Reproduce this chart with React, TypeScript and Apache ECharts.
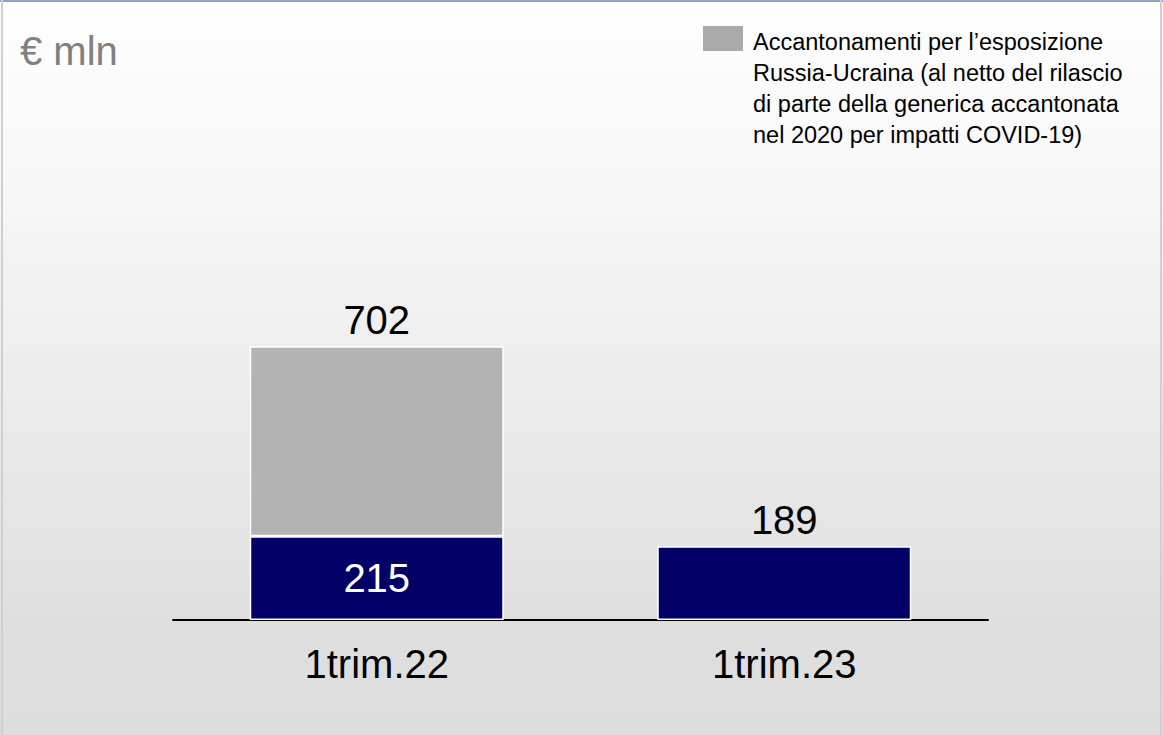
import React, { useEffect, useRef } from "react";
import * as echarts from "echarts";

const categories = ["1trim.22", "1trim.23"];
const baseValues = [215, 189];
const russiaValues = [487, 0];
const totals = [702, 189];
const showBaseLabel = [true, false];
const unitLabel = "€ mln";
const legendLabel =
  "Accantonamenti per l’esposizione\nRussia-Ucraina (al netto del rilascio\ndi parte della generica accantonata\nnel 2020 per impatti COVID-19)";

const FONT = "'Liberation Sans', Arial, sans-serif";

export default function App() {
  const ref = useRef<HTMLDivElement>(null);
  useEffect(() => {
    if (!ref.current) return;
    const chart = echarts.init(ref.current, null, { renderer: "svg" });
    chart.setOption({
      animation: false,
      backgroundColor: new echarts.graphic.LinearGradient(0, 0, 0, 1, [
        { offset: 0, color: "#fefefe" },
        { offset: 0.2, color: "#f9f9f9" },
        { offset: 0.85, color: "#dfdfdf" },
        { offset: 1, color: "#dddddd" },
      ]),
      textStyle: { fontFamily: FONT },
      grid: { left: 173, right: 175, top: 74, bottom: 115 },
      xAxis: {
        type: "category",
        data: categories,
        axisLine: { show: true, lineStyle: { color: "#000", width: 2 } },
        axisTick: { show: false },
        axisLabel: { color: "#000", fontSize: 40, margin: 24, fontFamily: FONT },
      },
      yAxis: {
        type: "value",
        min: 0,
        max: 1400,
        show: false,
        splitLine: { show: false },
      },
      series: [
        {
          type: "bar",
          name: "Base",
          stack: "tot",
          barWidth: 254,
          data: baseValues.map((v, i) => ({
            value: v,
            label: { show: showBaseLabel[i] },
          })),
          itemStyle: { color: "#000066", borderColor: "#ffffff", borderWidth: 1.5 },
          label: {
            show: true,
            position: "inside",
            color: "#ffffff",
            fontSize: 40,
            fontFamily: FONT,
          },
        },
        {
          type: "bar",
          name: "Russia",
          stack: "tot",
          barWidth: 254,
          data: russiaValues.map((v) => ({
            value: v,
            itemStyle:
              v === 0 ? { borderWidth: 0, color: "rgba(0,0,0,0)" } : {},
          })),
          itemStyle: { color: "#b3b3b3", borderColor: "#ffffff", borderWidth: 1.5 },
          label: {
            show: true,
            position: "top",
            distance: 6,
            color: "#000",
            fontSize: 40,
            fontFamily: FONT,
            formatter: (p: any) => String(totals[p.dataIndex]),
          },
        },
      ],
      graphic: [
        { type: "rect", shape: { x: 0, y: 0, width: 1163, height: 2 }, style: { fill: "#8fa2bf" } },
        { type: "rect", shape: { x: 1, y: 0, width: 2, height: 735 }, style: { fill: "#cfcfcf" } },
        { type: "rect", shape: { x: 1160, y: 0, width: 2, height: 735 }, style: { fill: "#cfcfcf" } },
        {
          type: "text",
          x: 20,
          y: 51,
          style: {
            text: unitLabel,
            fill: "#808080",
            fontSize: 40,
            fontFamily: FONT,
            verticalAlign: "middle",
          },
        },
        { type: "rect", shape: { x: 703, y: 26, width: 40, height: 25 }, style: { fill: "#aaaaaa" } },
        {
          type: "text",
          x: 753,
          y: 26,
          style: {
            text: legendLabel,
            fill: "#000",
            fontSize: 23.5,
            lineHeight: 31,
            fontFamily: FONT,
            verticalAlign: "top",
          },
        },
      ],
    });
    return () => chart.dispose();
  }, []);
  return (
    <div
      ref={ref}
      style={{ position: "fixed", left: 0, top: 0, width: 1163, height: 735 }}
    />
  );
}
